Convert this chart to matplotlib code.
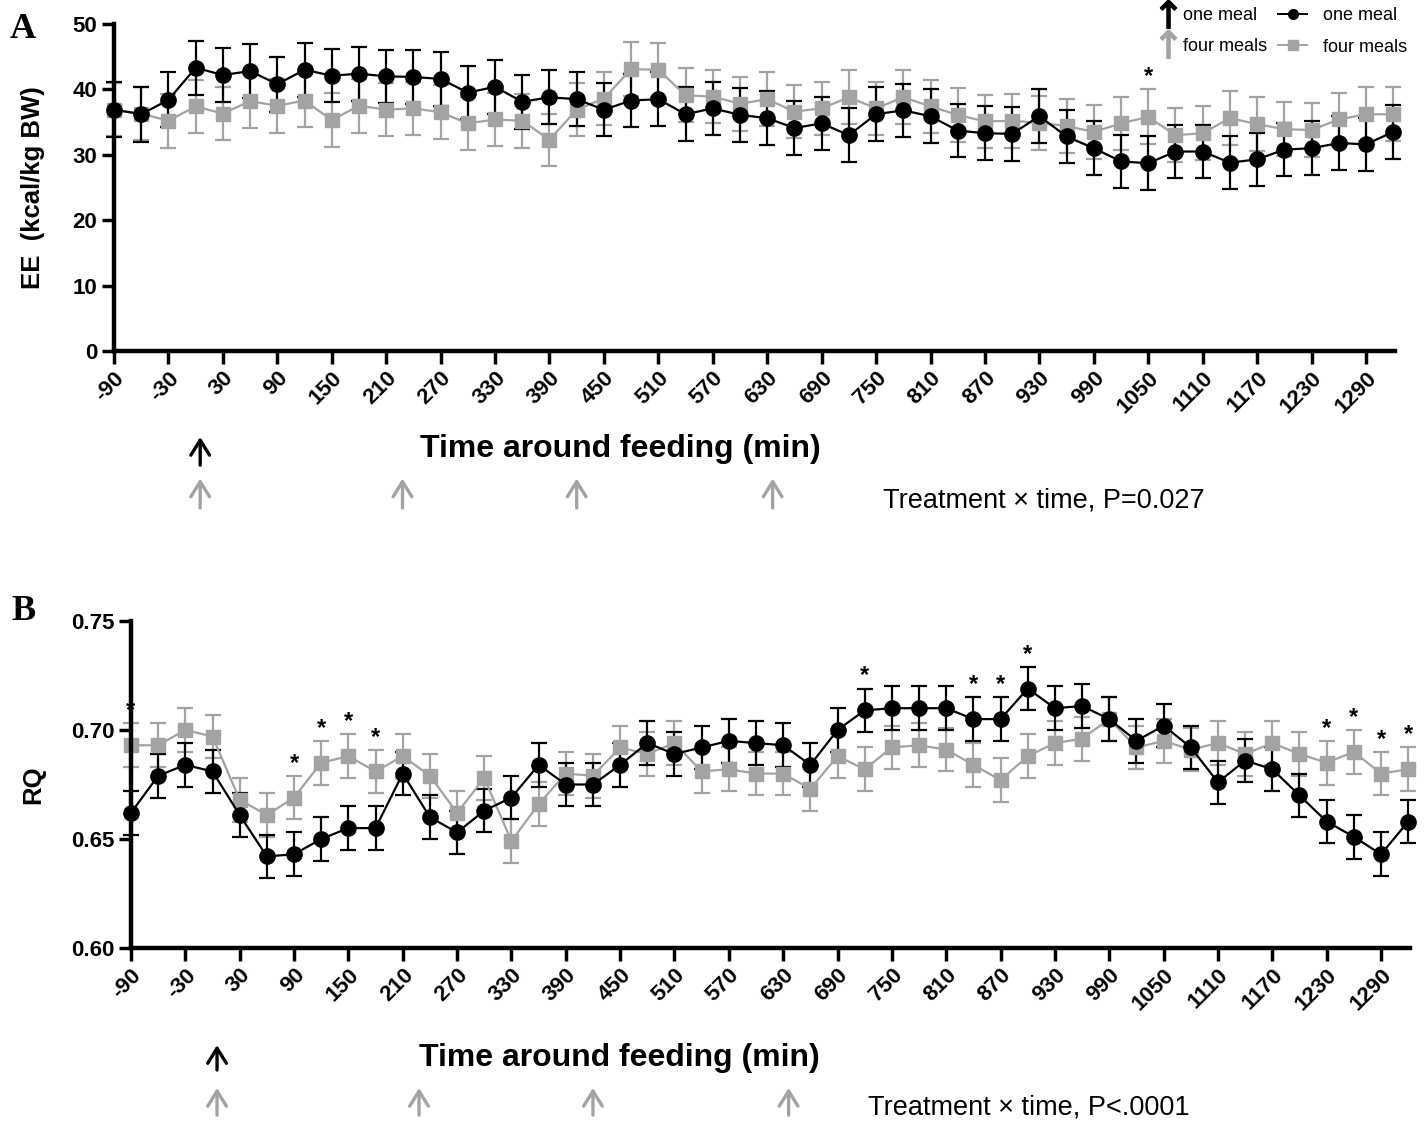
import matplotlib
matplotlib.use("Agg")
import matplotlib.pyplot as plt
from matplotlib.lines import Line2D

plt.rcParams['font.family'] = ['Liberation Sans', 'DejaVu Sans']

# minutes around feeding
time = list(range(-90, 1321, 30))

# panel A: energy expenditure (kcal/kg BW)
ee_one = [36.9, 36.2, 38.4, 43.3, 42.2, 42.8, 40.8, 43.0, 42.1, 42.4, 42.0, 41.9,
          41.6, 39.5, 40.4, 38.1, 38.8, 38.5, 36.9, 38.3, 38.5, 36.2, 37.1, 36.1,
          35.6, 34.1, 34.8, 33.0, 36.2, 36.8, 35.9, 33.7, 33.3, 33.2, 35.9, 32.8,
          31.0, 29.0, 28.7, 30.5, 30.5, 28.8, 29.3, 30.8, 31.0, 31.8, 31.6, 33.5]
ee_one_err = [4.2, 4.2, 4.2, 4.1, 4.2, 4.1, 4.2, 4.1, 4.1, 4.1, 4.1, 4.1,
              4.1, 4.1, 4.1, 4.1, 4.1, 4.1, 4.1, 4.1, 4.1, 4.1, 4.1, 4.1,
              4.1, 4.1, 4.1, 4.1, 4.1, 4.1, 4.1, 4.1, 4.1, 4.1, 4.1, 4.1,
              4.1, 4.1, 4.1, 4.1, 4.1, 4.1, 4.1, 4.1, 4.1, 4.1, 4.1, 4.1]
ee_four = [36.9, 36.3, 35.2, 37.4, 36.3, 38.2, 37.5, 38.3, 35.3, 37.5, 36.9, 37.1,
           36.5, 34.8, 35.4, 35.2, 32.3, 36.9, 38.6, 43.1, 43.0, 39.1, 38.9, 37.8,
           38.5, 36.6, 37.1, 38.8, 37.1, 38.8, 37.4, 36.1, 35.1, 35.2, 34.9, 34.4,
           33.5, 34.8, 35.8, 33.0, 33.3, 35.6, 34.7, 33.9, 33.8, 35.4, 36.2, 36.2]
ee_four_err = [4.1, 4.1, 4.1, 4.1, 4.1, 4.1, 4.1, 4.1, 4.1, 4.1, 4.1, 4.1,
               4.1, 4.1, 4.1, 4.1, 4.0, 4.1, 4.1, 4.1, 4.1, 4.1, 4.1, 4.1,
               4.1, 4.1, 4.1, 4.1, 4.1, 4.1, 4.1, 4.1, 4.1, 4.1, 4.1, 4.1,
               4.1, 4.1, 4.2, 4.1, 4.1, 4.1, 4.1, 4.1, 4.1, 4.1, 4.1, 4.1]

# panel B: respiratory quotient
rq_one = [0.662, 0.679, 0.684, 0.681, 0.661, 0.642, 0.643, 0.650, 0.655, 0.655, 0.680, 0.660,
          0.653, 0.663, 0.669, 0.684, 0.675, 0.675, 0.684, 0.694, 0.689, 0.692, 0.695, 0.694,
          0.693, 0.684, 0.700, 0.709, 0.710, 0.710, 0.710, 0.705, 0.705, 0.719, 0.710, 0.711,
          0.705, 0.695, 0.702, 0.692, 0.676, 0.686, 0.682, 0.670, 0.658, 0.651, 0.643, 0.658]
rq_four = [0.693, 0.693, 0.700, 0.697, 0.668, 0.661, 0.669, 0.685, 0.688, 0.681, 0.688, 0.679,
           0.662, 0.678, 0.649, 0.666, 0.680, 0.679, 0.692, 0.689, 0.694, 0.681, 0.682, 0.680,
           0.680, 0.673, 0.688, 0.682, 0.692, 0.693, 0.691, 0.684, 0.677, 0.688, 0.694, 0.696,
           0.705, 0.692, 0.695, 0.691, 0.694, 0.689, 0.694, 0.689, 0.685, 0.690, 0.680, 0.682]
rq_err = [0.010] * len(time)

# significant time points (asterisks)
ee_star_four = [1050]
rq_star_one = [720, 840, 870, 900]
rq_star_four = [-90, 90, 120, 150, 180, 1230, 1260, 1290, 1320]

# meal times (arrows)
meal_one = [5]
meal_four = [5, 228, 420, 636]

tick_pos = list(range(-90, 1291, 60))
GRAY = '#a3a3a3'

fig = plt.figure(figsize=(14.24, 11.22), dpi=100)
axA = fig.add_axes([114 / 1424, 1 - 351 / 1122, 1281 / 1424, 327 / 1122])
axB = fig.add_axes([131 / 1424, 1 - 948 / 1122, 1279 / 1424, 327 / 1122])


def draw_series(ax, y, err, color, marker, ms):
    ax.errorbar(time, y, yerr=err, fmt='-', marker=marker, color=color, ecolor=color,
                markersize=ms, lw=1.6, elinewidth=1.6, capsize=6, capthick=1.6,
                clip_on=False, zorder=3)


def style_axis(ax, ylim, yticks, yfmt):
    ax.set_xlim(-90, 1322)
    ax.set_ylim(*ylim)
    ax.set_xticks(tick_pos)
    ax.set_xticklabels([str(t) for t in tick_pos], rotation=45, ha='right',
                       va='top', rotation_mode='anchor', fontsize=16, fontweight='bold')
    ax.set_yticks(yticks)
    ax.set_yticklabels([yfmt.format(v) for v in yticks], fontsize=16, fontweight='bold')
    for s in ['top', 'right']:
        ax.spines[s].set_visible(False)
    for s in ['left', 'bottom']:
        ax.spines[s].set_linewidth(3.2)
        ax.spines[s].set_zorder(5)
    ax.tick_params(axis='both', length=9, width=2.5, pad=3)


def stars(ax, xs, series, err, dy):
    for x in xs:
        i = time.index(x)
        ax.text(x, series[i] + err[i] + dy, '*', ha='center', va='bottom',
                fontsize=17, fontweight='bold', zorder=6)


def arrows(ax, y_one, y_four):
    tr = ax.get_xaxis_transform()
    style = '->,head_length=0.45,head_width=0.28'
    for x in meal_one:
        ax.annotate('', xy=(x, y_one[1]), xytext=(x, y_one[0]), xycoords=tr, textcoords=tr,
                    arrowprops=dict(arrowstyle=style, color='black', lw=2.4,
                                    mutation_scale=24, shrinkA=0, shrinkB=0),
                    annotation_clip=False)
    for x in meal_four:
        ax.annotate('', xy=(x, y_four[1]), xytext=(x, y_four[0]), xycoords=tr, textcoords=tr,
                    arrowprops=dict(arrowstyle=style, color=GRAY, lw=2.4,
                                    mutation_scale=24, shrinkA=0, shrinkB=0),
                    annotation_clip=False)


# panel A
draw_series(axA, ee_four, ee_four_err, GRAY, 's', 10)
draw_series(axA, ee_one, ee_one_err, 'black', 'o', 11)
style_axis(axA, (0, 50), [0, 10, 20, 30, 40, 50], '{:d}')
axA.set_ylabel('EE  (kcal/kg BW)', fontsize=18.5, fontweight='bold')
axA.yaxis.set_label_coords(-0.054, 0.5)
axA.set_xlabel('Time around feeding (min)', fontsize=23, fontweight='bold')
axA.xaxis.set_label_coords(0.395, -0.255)
stars(axA, ee_star_four, ee_four, ee_four_err, 0.2)
arrows(axA, (-0.349, -0.263), (-0.48, -0.39))
axA.text(0.6, -0.456, 'Treatment \u00d7 time, P=0.027', transform=axA.transAxes,
         fontsize=19.5, va='center', ha='left')

# panel B
draw_series(axB, rq_four, rq_err, GRAY, 's', 10)
draw_series(axB, rq_one, rq_err, 'black', 'o', 11)
style_axis(axB, (0.60, 0.75), [0.60, 0.65, 0.70, 0.75], '{:.2f}')
axB.set_ylabel('RQ', fontsize=18.5, fontweight='bold')
axB.yaxis.set_label_coords(-0.067, 0.5)
axB.set_xlabel('Time around feeding (min)', fontsize=23, fontweight='bold')
axB.xaxis.set_label_coords(0.382, -0.292)
stars(axB, rq_star_one, rq_one, rq_err, 0.0005)
stars(axB, rq_star_four, rq_four, rq_err, 0.0005)
arrows(axB, (-0.373, -0.297), (-0.511, -0.428))
axB.text(0.576, -0.489, 'Treatment \u00d7 time, P<.0001', transform=axB.transAxes,
         fontsize=19.5, va='center', ha='left')

# panel letters
fig.text(0.007, 1 - 29 / 1122, 'A', family='Liberation Serif', fontsize=26,
         fontweight='bold', va='center')
fig.text(0.008, 1 - 612 / 1122, 'B', family='Liberation Serif', fontsize=26,
         fontweight='bold', va='center')

# legends
arrow_handles = [
    Line2D([], [], linestyle='none', marker=r'$\uparrow$', color='black', markersize=20),
    Line2D([], [], linestyle='none', marker=r'$\uparrow$', color=GRAY, markersize=20),
]
fig.legend(arrow_handles, ['one meal', 'four meals'], loc='upper left',
           bbox_to_anchor=(1143 / 1424, 1.008), frameon=False, fontsize=13,
           handlelength=1.0, handletextpad=0.3, labelspacing=0.75)
series_handles = [
    Line2D([], [], color='black', marker='o', markersize=7, lw=1.4),
    Line2D([], [], color=GRAY, marker='s', markersize=7, lw=1.4),
]
fig.legend(series_handles, ['one meal', 'four meals'], loc='upper left',
           bbox_to_anchor=(1262 / 1424, 1.008), frameon=False, fontsize=13,
           handlelength=1.6, handletextpad=0.9, labelspacing=0.8)

fig.savefig('out.png', dpi=100)
